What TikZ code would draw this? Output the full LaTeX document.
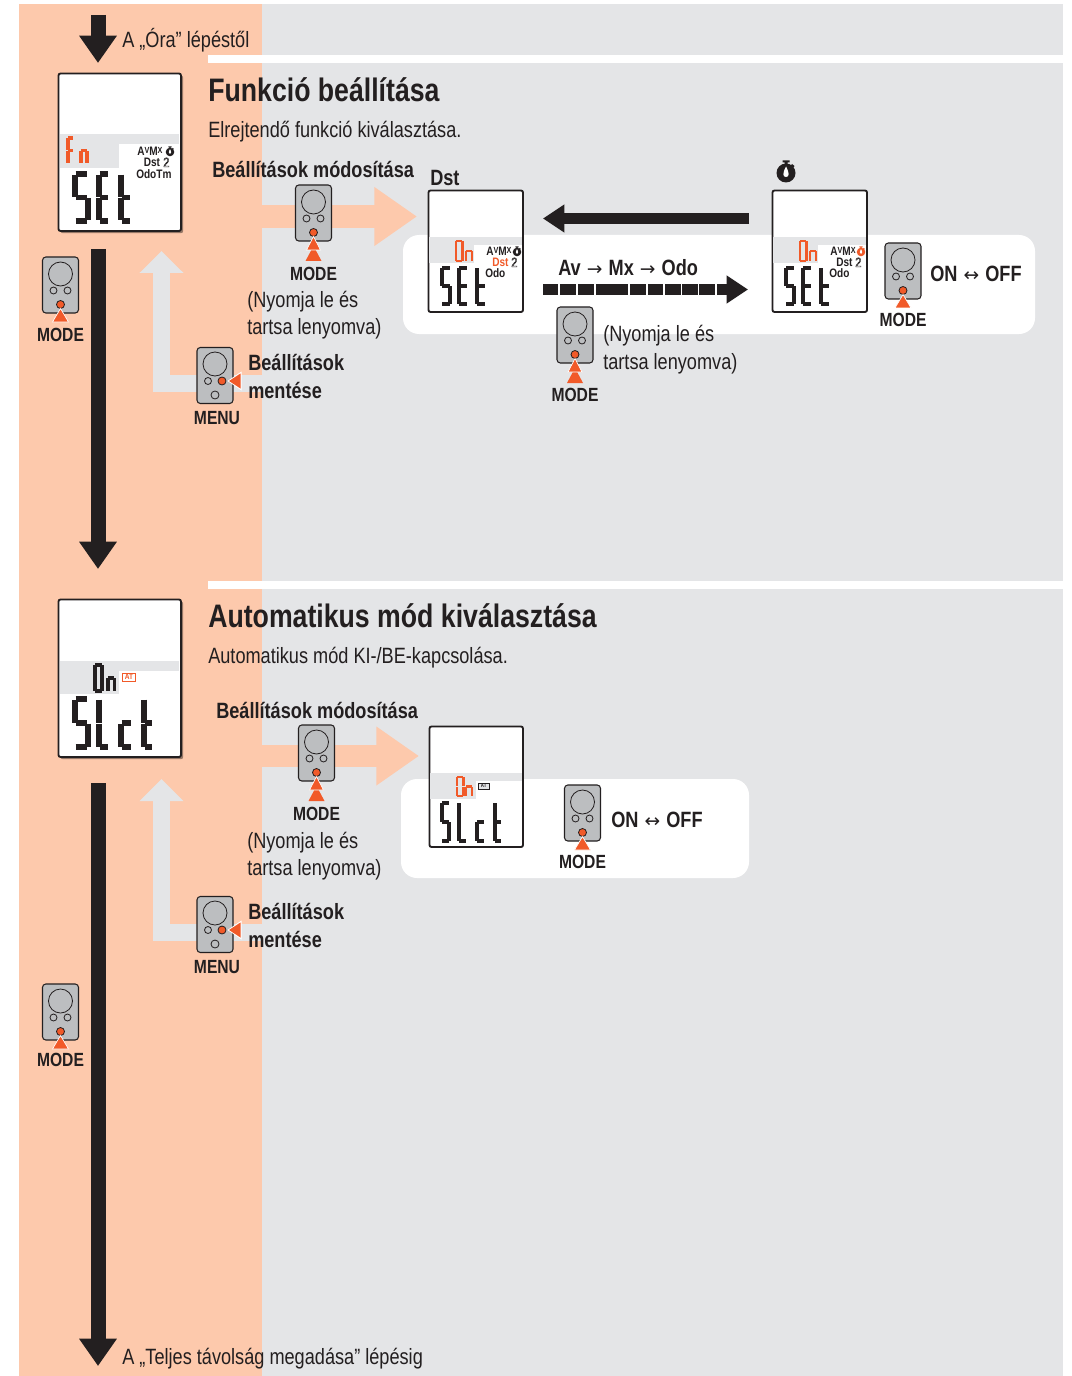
\documentclass[tikz,border=0pt]{standalone}
\usepackage{fontspec}
\setmainfont{Liberation Sans}[FakeStretch=0.82]
\newfontfamily\arrowfont{DejaVu Sans}
\usetikzlibrary{positioning,arrows.meta,shadows}

\definecolor{peach}{HTML}{FDC9AC}
\definecolor{panelgray}{HTML}{E4E5E7}
\definecolor{keygray}{HTML}{BCBEC0}
\definecolor{hot}{HTML}{F15A29}
\definecolor{ink}{HTML}{231F20}

\tikzset{
  heading/.style={anchor=base west, inner sep=0pt, text=ink, font=\fontsize{24.4pt}{28pt}\selectfont\bfseries},
  plain/.style={anchor=base west, inner sep=0pt, text=ink, font=\fontsize{16.6pt}{18pt}\selectfont},
  strong/.style={anchor=base west, inner sep=0pt, text=ink, font=\fontsize{16.6pt}{18pt}\selectfont\bfseries},
  keylabel/.style={inner sep=0pt, text=ink, font=\fontsize{14.3pt}{16pt}\selectfont\bfseries},
  lcdtext/.style={inner sep=0pt, anchor=base west, text=ink, font=\fontsize{9.2pt}{10pt}\selectfont\bfseries},
  keybody/.style={draw=ink, fill=keygray, line width=.8pt, rounded corners=2.5pt, minimum width=27pt, minimum height=42pt, inner sep=0pt},
  lcdframe/.style={draw=ink, fill=white, line width=1.4pt, rounded corners=1.5pt},
  mainflow/.style={draw=ink, line width=11.25pt, -{Triangle[length=20.5pt,width=27pt]}},
  sideflow/.style={draw=ink, line width=8.5pt, -{Triangle[length=16pt,width=20pt]}},
  forward/.style={line width=17pt, draw=peach, -{Triangle[length=32pt,width=42pt]}},
  backward/.style={line width=12.5pt, draw=panelgray, -{Triangle[length=16.5pt,width=32pt]}},
  pics/modekey/.style={code={
    \draw[ink, line width=.6pt] (0,-11) circle (12);
    \draw[ink, line width=.6pt] (-7,5.5) circle (3.5) (7,5.5) circle (3.5);
    \draw[ink, fill=hot, line width=.6pt] (0,19.5) circle (4);
  }},
  pics/menukey/.style={code={
    \draw[ink, line width=.6pt] (0,-11.5) circle (12);
    \draw[ink, line width=.6pt] (-7,5.5) circle (3.5) (0,19.5) circle (4);
    \draw[ink, fill=hot, line width=.6pt] (7,5.5) circle (4);
    \fill[white] (12.5,5.5) -- (26.5,-4) -- (26.5,15) -- cycle;
    \fill[hot] (14,5.5) -- (25.5,-2) -- (25.5,13) -- cycle;
  }},
  pics/singletip/.style={code={
    \fill[hot, draw=white, line width=.5pt] (0,23.5) -- (8,37) -- (-8,37) -- cycle;
  }},
  pics/twintip/.style={code={
    \fill[hot] (0,33) -- (8,48) -- (-8,48) -- cycle;
    \fill[hot, draw=white, line width=.5pt] (0,23.5) -- (7,37) -- (-7,37) -- cycle;
  }},
  pics/watch/.style={code={
    \fill[#1] (0,0) circle (9.5);
    \fill[#1] (-3.5,-12.5) rectangle (3.5,-10.5) (-1.5,-11) rectangle (1.5,-8);
    \fill[#1] (6,-9) -- (8.5,-7) -- (7,-5) -- (4.5,-7) -- cycle;
    \fill[white] (0,-6.5) .. controls (3.5,0) and (3.5,4) .. (0,4) .. controls (-3.5,4) and (-3.5,0) .. (0,-6.5);
  }},
}

\def\glyphS{0/0/1/0,0/0/0/1,0/1/1/1,1/1/1/2,0/2/1/2}
\def\glyphE{0/0/1/0,0/0/0/1,0/1/1/1,0/1/0/2,0/2/1/2}
\def\glyphT{0/0/0/1,0/1/1/1,0/1/0/2,0/2/1/2}
\def\glyphF{0/0/1/0,0/0/0/1,0/1/1/1,0/1/0/2}
\def\glyphN{0/1/1/1,0/1/0/2,1/1/1/2}
\def\glyphO{0/0/1/0,0/0/0/1,1/0/1/1,0/1/0/2,1/1/1/2,0/2/1/2}
\def\glyphL{0/0/0/1,0/1/0/2,0/2/1/2}
\def\glyphC{0/1/1/1,0/1/0/2,0/2/1/2}

\newcommand{\segchar}[7]{
  \foreach \xa/\ya/\xb/\yb in #7 {
    \draw[#6, line width=#5, shorten >=.1*#5, shorten <=.1*#5] ({#1+\xa*#3},{#2+\ya*#4}) -- ({#1+\xb*#3},{#2+\yb*#4});
  }
}

\newcommand{\avmx}{A\raisebox{.35ex}{\scalebox{.72}{V}}M\raisebox{.35ex}{\scalebox{.72}{X}}}
\newcommand{\hollowtwo}{\fontsize{10pt}{10pt}\selectfont\mdseries\special{pdf:code q 1 Tr 0.35 w}2\special{pdf:code Q}}
\newcommand{\thinarrow}[1]{{\kern.8pt\arrowfont\mdseries\fontsize{14pt}{14pt}\selectfont #1\kern.8pt}}

\newcommand{\setpanel}[3]{
  \draw[lcdframe] (#1+.5,190.5) rectangle ++(94.5,121.5);
  \fill[panelgray] (#1+1,237) rectangle ++(93,8);
  \fill[panelgray] (#1+1,245) rectangle ++(45,18);
  \segchar{#1+28}{241}{6.5}{10}{2.2pt}{hot}{\glyphO}
  \segchar{#1+38}{241}{6}{10}{2.2pt}{hot}{\glyphN}
  \segchar{#1+14}{268}{8}{18}{3pt}{ink}{\glyphS}
  \segchar{#1+31}{268}{8}{18}{3pt}{ink}{\glyphE}
  \segchar{#1+49}{268}{8}{18}{3pt}{ink}{\glyphT}
  \node[lcdtext] (avmx#1) at (#1+58,255.5) {\avmx};
  \pic[scale=.45] at (#1+89,252) {watch=#3};
  \node[lcdtext, text=#2] (dst#1) at (#1+64,267) {Dst};
  \node[lcdtext] (two#1) at (#1+83,267) {\hollowtwo};
  \node[lcdtext] (odo#1) at (#1+57,277.5) {Odo};
}

\begin{document}
\begin{tikzpicture}[x=0.75pt, y=-0.75pt, on grid]
  \useasboundingbox (0,0) rectangle (1071,1376);
  \fill[panelgray] (262,4) rectangle (1063,1376);
  \fill[peach] (19,4) rectangle (262,1376);
  \fill[white] (208,55) rectangle (1063,63);
  \fill[white] (208,581) rectangle (1063,589);

  \fill[white, rounded corners=12pt] (403,235) rectangle (1035,334);
  \fill[white, rounded corners=12pt] (401,779) rectangle (749,878);

  \coordinate (topA) at (98,15);
  \coordinate (tipA) at (98,63);
  \coordinate (topB) at (98,249);
  \coordinate (tipB) at (98,569);
  \coordinate (topC) at (98,783);
  \coordinate (tipC) at (98,1366);
  \foreach \from/\to in {topA/tipA,topB/tipB,topC/tipC} {
    \draw[mainflow] (\from) -- (\to);
  }

  \coordinate (fwdA) at (262,216.5);
  \coordinate (fwdTipA) at (417,216.5);
  \coordinate (fwdB) at (262,756);
  \coordinate (fwdTipB) at (419,756);
  \draw[forward] (fwdA) -- (fwdTipA);
  \draw[forward] (fwdB) -- (fwdTipB);

  \coordinate (saveA) at (262,383.5);
  \coordinate (saveTipA) at (161.5,251);
  \coordinate (saveB) at (262,932.5);
  \coordinate (saveTipB) at (161.5,779);
  \draw[backward] (saveA) -| (saveTipA);
  \draw[backward] (saveB) -| (saveTipB);

  \node[heading] (titleA) at (208,101.5) {Funkció beállítása};
  \node[plain] (subA) at (208,138) {Elrejtendő funkció kiválasztása.};
  \node[plain] (fromA) at (122,48) {A „Óra” lépéstől};
  \node[strong] (changeA) at (212,178) {Beállítások módosítása};
  \node[strong] (dstA) at (430,185.5) {Dst};
  \node[plain] (holdA) at (247,307) {(Nyomja le és};
  \node[plain] (holdB) at (247,334.5) {tartsa lenyomva)};
  \node[strong] (saveTextA) at (248,370) {Beállítások};
  \node[strong] (saveTextB) at (248,398) {mentése};

  \node[heading] (titleB) at (208,627) {Automatikus mód kiválasztása};
  \node[plain] (subB) at (208,663) {Automatikus mód KI-/BE-kapcsolása.};
  \node[strong] (changeB) at (216,718) {Beállítások módosítása};
  \node[plain] (holdC) at (247,848) {(Nyomja le és};
  \node[plain] (holdD) at (247,875) {tartsa lenyomva)};
  \node[strong] (saveTextC) at (248,919) {Beállítások};
  \node[strong] (saveTextD) at (248,947) {mentése};
  \node[plain] (toC) at (122,1364) {A „Teljes távolság megadása” lépésig};

  \node[strong] (seqA) at (558,275.5) {Av \thinarrow{→} Mx \thinarrow{→} Odo};
  \node[plain] (holdE) at (603,341) {(Nyomja le és};
  \node[plain] (holdF) at (603,369) {tartsa lenyomva)};
  \node[strong] (toggleA) at (930,281.5) {ON \thinarrow{↔} OFF};
  \node[strong] (toggleB) at (611,827.5) {ON \thinarrow{↔} OFF};

  \coordinate (backStart) at (749,218.5);
  \coordinate (backTip) at (543,218.5);
  \draw[sideflow] (backStart) -- (backTip);
  \foreach \xa/\xb in {543/558,560/576,578/594,596/628,630/646,648/663,665/681,682/698,699/715,717/729} {
    \fill[ink] (\xa,284) rectangle (\xb,295);
  }
  \coordinate (dashEnd) at (728,289.5);
  \coordinate (dashTip) at (748,289.5);
  \draw[sideflow] (dashEnd) -- (dashTip);

  \node[keybody] (keyLeftA) at (60.5,285) {};
  \pic at (keyLeftA) {modekey};
  \pic at (keyLeftA) {singletip};
  \node[keylabel, below of=keyLeftA, node distance=37.5pt] (labelLeftA) {MODE};

  \node[keybody] (keyLeftB) at (60.5,1012) {};
  \pic at (keyLeftB) {modekey};
  \pic at (keyLeftB) {singletip};
  \node[keylabel, below of=keyLeftB, node distance=36pt] (labelLeftB) {MODE};

  \node[keybody] (keyChangeA) at (313.5,213) {};
  \pic at (keyChangeA) {modekey};
  \pic at (keyChangeA) {twintip};
  \node[keylabel, below of=keyChangeA, node distance=45.5pt] (labelChangeA) {MODE};

  \node[keybody] (keyChangeB) at (316.5,753) {};
  \pic at (keyChangeB) {modekey};
  \pic at (keyChangeB) {twintip};
  \node[keylabel, below of=keyChangeB, node distance=45.5pt] (labelChangeB) {MODE};

  \node[keybody] (keySeq) at (575,335) {};
  \pic at (keySeq) {modekey};
  \pic at (keySeq) {twintip};
  \node[keylabel, below of=keySeq, node distance=45pt] (labelSeq) {MODE};

  \node[keybody] (keyToggleA) at (903,271) {};
  \pic at (keyToggleA) {modekey};
  \pic at (keyToggleA) {singletip};
  \node[keylabel, below of=keyToggleA, node distance=37pt] (labelToggleA) {MODE};

  \node[keybody] (keyToggleB) at (582.5,813) {};
  \pic at (keyToggleB) {modekey};
  \pic at (keyToggleB) {singletip};
  \node[keylabel, below of=keyToggleB, node distance=37pt] (labelToggleB) {MODE};

  \node[keybody] (keyMenuA) at (215,375.5) {};
  \pic at (keyMenuA) {menukey};
  \node[keylabel] (labelMenuA) at (217,418) {MENU};

  \node[keybody] (keyMenuB) at (215,924.5) {};
  \pic at (keyMenuB) {menukey};
  \node[keylabel] (labelMenuB) at (217,967) {MENU};

  \pic at (786,173) {watch=ink};

  \draw[lcdframe, drop shadow={shadow xshift=1.6pt, shadow yshift=-1.6pt, fill=black, opacity=.4}] (58.5,73.5) rectangle (181,231);
  \fill[panelgray] (60,134) rectangle (179,144);
  \fill[panelgray] (60,144) rectangle (119,168);
  \segchar{68}{138}{5.5}{12.5}{2.6pt}{hot}{\glyphF}
  \segchar{81}{138}{6}{12.5}{2.6pt}{hot}{\glyphN}
  \segchar{75}{174}{13}{23.5}{3.8pt}{ink}{\glyphS}
  \segchar{99}{174}{10}{23.5}{3.8pt}{ink}{\glyphE}
  \segchar{121}{174}{10}{23.5}{3.8pt}{ink}{\glyphT}
  \node[lcdtext] (avmxA) at (137,155.5) {\avmx};
  \pic[scale=.45] at (170,152) {watch=ink};
  \node[lcdtext] (dstB) at (143.5,167) {Dst};
  \node[lcdtext] (twoB) at (163,167) {\hollowtwo};
  \node[lcdtext] (odotm) at (136,178.5) {OdoTm};

  \setpanel{428}{hot}{ink}
  \setpanel{772}{ink}{hot}

  \draw[lcdframe, drop shadow={shadow xshift=1.6pt, shadow yshift=-1.6pt, fill=black, opacity=.4}] (58.5,599.5) rectangle (181,757);
  \fill[panelgray] (60,661) rectangle (179,671);
  \fill[panelgray] (60,671) rectangle (119,694);
  \segchar{95}{665}{7}{13}{2.8pt}{ink}{\glyphO}
  \segchar{108}{665}{6.5}{13}{2.8pt}{ink}{\glyphN}
  \draw[hot, line width=.6pt, fill=white] (122.5,673) rectangle (135.5,681);
  \node[font=\fontsize{6pt}{6pt}\selectfont\bfseries, text=hot, inner sep=0pt] (atA) at (129,677) {AT};
  \segchar{75}{699}{13}{24}{3.8pt}{ink}{\glyphS}
  \segchar{99}{699}{10}{24}{3.8pt}{ink}{\glyphL}
  \segchar{121}{699}{11}{24}{3.8pt}{ink}{\glyphC}
  \segchar{144}{699}{9}{24}{3.8pt}{ink}{\glyphT}

  \draw[lcdframe] (429.5,726.5) rectangle (523,847);
  \fill[panelgray] (430,773) rectangle (522,781);
  \fill[panelgray] (430,781) rectangle (476,799);
  \segchar{457}{777}{6.5}{9.5}{2.2pt}{hot}{\glyphO}
  \segchar{466}{777}{6}{9.5}{2.2pt}{hot}{\glyphN}
  \draw[ink, line width=.4pt, fill=panelgray] (478.5,783) rectangle (489,789);
  \node[font=\fontsize{4pt}{4pt}\selectfont\bfseries, text=ink, inner sep=0pt] (atB) at (483.7,786) {AT};
  \segchar{442}{803}{7}{19}{3pt}{ink}{\glyphS}
  \segchar{459}{803}{7}{19}{3pt}{ink}{\glyphL}
  \segchar{477}{803}{7}{19}{3pt}{ink}{\glyphC}
  \segchar{495}{803}{6}{19}{3pt}{ink}{\glyphT}
\end{tikzpicture}
\end{document}
